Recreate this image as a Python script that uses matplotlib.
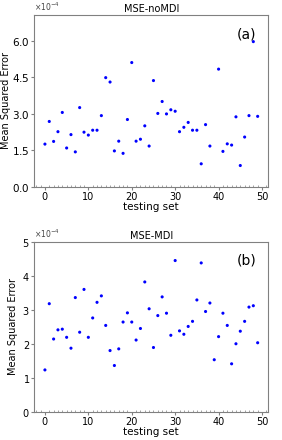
import numpy as np
import matplotlib
matplotlib.use("Agg")
import matplotlib.pyplot as plt
from matplotlib.ticker import ScalarFormatter, MultipleLocator

# MSE values (x 1e-4) per testing set
set_idx = np.arange(50)
mse_nomdi = [1.75, 2.68, 1.86, 2.26, 3.05, 1.59, 2.14, 1.43, 3.25, 2.24,
             2.12, 2.32, 2.32, 2.92, 4.48, 4.30, 1.47, 1.87, 1.37, 2.76,
             5.10, 1.87, 1.95, 2.50, 1.67, 4.36, 3.01, 3.50, 2.99, 3.16,
             3.10, 2.26, 2.44, 2.64, 2.32, 2.32, 0.94, 2.55, 1.67, np.nan,
             4.83, 1.45, 1.76, 1.71, 2.87, 0.87, 2.04, 2.92, 5.96, 2.89]
mse_mdi = [1.23, 3.18, 2.14, 2.41, 2.43, 2.19, 1.87, 3.36, 2.34, 3.60,
           2.19, 2.76, 3.22, 3.41, 2.54, 1.80, 1.36, 1.85, 2.64, 2.91,
           2.64, 2.11, 2.45, 3.82, 3.03, 1.89, 2.83, 3.38, 2.90, 2.25,
           4.45, 2.38, 2.28, 2.51, 2.66, 3.29, 4.38, 2.95, 3.20, 1.53,
           2.21, 2.90, 2.54, 1.41, 2.00, 2.37, 2.66, 3.08, 3.12, 2.03]

titles = ["MSE-noMDI", "MSE-MDI"]
tags = ["(a)", "(b)"]
ylims = [7.05e-4, 5e-4]
yticks = [[0, 1.5e-4, 3e-4, 4.5e-4, 6e-4], [0, 1e-4, 2e-4, 3e-4, 4e-4, 5e-4]]
ytick_fs = [7.5, 7]
ylabel_x = [-0.10, -0.07]

fig = plt.figure(figsize=(2.82, 4.40), dpi=100)
ax_top = fig.add_axes([0.1216, 0.5757, 0.8298, 0.390])
ax_bot = fig.add_axes([0.1216, 0.0643, 0.8298, 0.386])

for i, (ax, vals) in enumerate(zip([ax_top, ax_bot], [mse_nomdi, mse_mdi])):
    ax.scatter(set_idx, np.array(vals) * 1e-4, s=5, color="blue", edgecolors="none")
    ax.set_xlim(-2.45, 51.45)
    ax.set_ylim(0, ylims[i])
    ax.set_yticks(yticks[i])
    ax.set_xticks([0, 10, 20, 30, 40, 50])
    ax.xaxis.set_minor_locator(MultipleLocator(1))
    fmt = ScalarFormatter(useMathText=True)
    fmt.set_powerlimits((-3, 3))
    ax.yaxis.set_major_formatter(fmt)
    ax.yaxis.get_offset_text().set_fontsize(5.5)
    ax.yaxis.get_offset_text().set_color("#444444")
    ax.tick_params(axis="y", labelsize=ytick_fs[i], direction="out", length=2,
                   pad=1.2, color="gray")
    ax.tick_params(axis="x", which="major", labelsize=7, direction="out",
                   length=2, pad=1.5, color="gray")
    ax.tick_params(axis="x", which="minor", direction="in", length=1.2,
                   width=0.5, color="gray")
    for sp in ax.spines.values():
        sp.set_color("gray")
        sp.set_linewidth(0.8)
    ax.set_title(titles[i], fontsize=7, pad=2)
    ax.set_xlabel("testing set", fontsize=7.5, labelpad=0)
    ax.set_ylabel("Mean Squared Error", fontsize=7)
    ax.yaxis.set_label_coords(ylabel_x[i], 0.5)
    ax.text(0.95, 0.93, tags[i], transform=ax.transAxes, fontsize=10,
            ha="right", va="top")

fig.savefig("out.png", dpi=100)
